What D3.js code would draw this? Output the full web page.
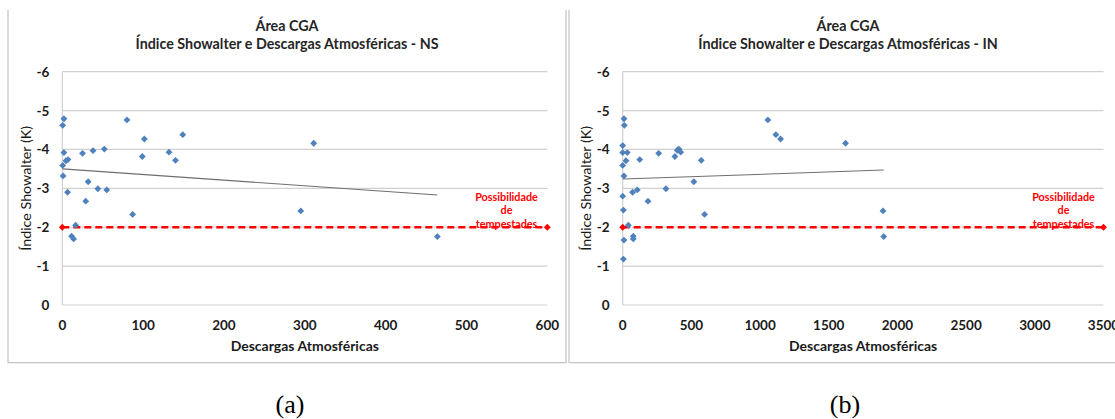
<!DOCTYPE html>
<html>
<head>
<meta charset="utf-8">
<script src="https://cdn.jsdelivr.net/npm/d3@7"></script>
<style>
  html, body { margin: 0; padding: 0; background: #fff; }
  svg { display: block; }
  text { font-family: Lato, "Open Sans", sans-serif; }
</style>
</head>
<body>
<svg id="chart" width="1115" height="419"></svg>
<script>
// ---- Data ----
const titleLine1 = "Área CGA";
const titleNS = "Índice Showalter e Descargas Atmosféricas - NS";
const titleIN = "Índice Showalter e Descargas Atmosféricas - IN";
const xAxisTitle = "Descargas Atmosféricas";
const yAxisTitle = "Índice Showalter (K)";
const annotationLines = ["Possibilidade", "de", "tempestades"];
const captions = ["(a)", "(b)"];

const yTicks = [-6, -5, -4, -3, -2, -1, 0];
const xTicksNS = [0, 100, 200, 300, 400, 500, 600];
const xTicksIN = [0, 500, 1000, 1500, 2000, 2500, 3000, 3500];

// NS panel: lightning discharges and Showalter index
const nsDescargas = [2, 0.5, 2, 0.5, 1, 4.5, 7, 6.5, 16.5, 11.5, 14, 25, 32, 29, 38, 44, 52, 55, 80, 87, 99, 101.5, 132, 140, 149, 311, 295, 464];
const nsShowalter = [-4.79, -4.62, -3.92, -3.59, -3.32, -3.71, -3.74, -2.90, -2.05, -1.77, -1.70, -3.90, -3.17, -2.67, -3.97, -2.99, -4.01, -2.96, -4.76, -2.33, -3.82, -4.27, -3.93, -3.72, -4.38, -4.16, -2.42, -1.76];
const nsTrendX = [0, 464];
const nsTrendY = [-3.50, -2.83];

// IN panel
const inDescargas = [9.5, 12, 0, 0, 33, 0, 24, 9, 0, 5, 41, 9, 77, 77, 5, 124, 72, 106, 184, 262, 315, 380, 397, 409, 422, 518, 572, 596, 1057, 1115, 1149, 1622, 1895, 1900];
const inShowalter = [-4.79, -4.62, -4.10, -3.92, -3.92, -3.59, -3.71, -3.32, -2.80, -2.44, -2.05, -1.67, -1.77, -1.70, -1.18, -3.74, -2.90, -2.96, -2.67, -3.90, -2.99, -3.82, -3.98, -4.01, -3.93, -3.17, -3.72, -2.33, -4.76, -4.38, -4.27, -4.16, -2.42, -1.76];
const inTrendX = [0, 1900];
const inTrendY = [-3.24, -3.47];

const thresholdValue = -2;

// ---- Drawing ----
const svg = d3.select("#chart");

function drawPanel(cfg) {
  const g = svg.append("g");
  const x = d3.scaleLinear().domain([cfg.xTicks[0], cfg.xTicks[cfg.xTicks.length - 1]]).range([cfg.left, cfg.right]);
  const y = d3.scaleLinear().domain([0, -6]).range([305, 71.7]);

  // chart frame (left, right, bottom edges)
  g.append("path")
    .attr("d", `M${cfg.boxL},10 V362.7 H${cfg.boxR} V10`)
    .attr("fill", "none").attr("stroke", "#c4c4c4").attr("stroke-width", 1.2);

  // gridlines
  g.selectAll(".grid").data(yTicks).enter().append("line")
    .attr("x1", cfg.left).attr("x2", cfg.right)
    .attr("y1", d => y(d)).attr("y2", d => y(d))
    .attr("stroke", "#d0d0d0").attr("stroke-width", 1.2);
  // y axis line
  g.append("line").attr("x1", cfg.left).attr("x2", cfg.left)
    .attr("y1", y(-6)).attr("y2", y(0))
    .attr("stroke", "#d0d0d0").attr("stroke-width", 1.2);

  // y tick labels
  g.selectAll(".ytl").data(yTicks).enter().append("text")
    .attr("x", cfg.left - 13).attr("y", d => y(d))
    .attr("text-anchor", "end").attr("dominant-baseline", "central")
    .attr("font-size", 13.5).attr("font-weight", "bold").attr("fill", "#1a1a1a")
    .text(d => d);
  // x tick labels
  g.selectAll(".xtl").data(cfg.xTicks).enter().append("text")
    .attr("x", d => x(d)).attr("y", 325)
    .attr("text-anchor", "middle").attr("dominant-baseline", "central")
    .attr("font-size", 13.5).attr("font-weight", "bold").attr("fill", "#1a1a1a")
    .text(d => d);

  // titles
  const cx = (cfg.boxL + cfg.boxR) / 2;
  g.append("text").attr("x", cx).attr("y", 25)
    .attr("text-anchor", "middle").attr("dominant-baseline", "central")
    .attr("font-size", 14.3).attr("font-weight", "bold").attr("fill", "#262626").text(titleLine1);
  g.append("text").attr("x", cx).attr("y", 43.5)
    .attr("text-anchor", "middle").attr("dominant-baseline", "central")
    .attr("font-size", 14.3).attr("font-weight", "bold").attr("fill", "#262626").text(cfg.title);

  // axis titles
  g.append("text").attr("x", (cfg.left + cfg.right) / 2).attr("y", 345)
    .attr("text-anchor", "middle").attr("dominant-baseline", "central")
    .attr("font-size", 14).attr("font-weight", "bold").attr("fill", "#1a1a1a").text(xAxisTitle);
  g.append("text")
    .attr("transform", `translate(${cfg.left - 37},${(y(-6) + y(0)) / 2}) rotate(-90)`)
    .attr("text-anchor", "middle").attr("dominant-baseline", "central")
    .attr("font-size", 14.3).attr("fill", "#1a1a1a").text(yAxisTitle);

  // threshold line
  const xMax = cfg.xTicks[cfg.xTicks.length - 1];
  g.append("line")
    .attr("x1", x(0)).attr("x2", x(xMax))
    .attr("y1", y(thresholdValue)).attr("y2", y(thresholdValue))
    .attr("stroke", "#ff0000").attr("stroke-width", 2.5).attr("stroke-dasharray", "7,4");
  g.selectAll(".thm").data([0, xMax]).enter().append("path")
    .attr("d", d3.symbol(d3.symbolDiamond2, 30))
    .attr("transform", d => `translate(${x(d)},${y(thresholdValue)})`)
    .attr("fill", "#ff0000");

  // annotation
  g.selectAll(".ann").data(annotationLines).enter().append("text")
    .attr("x", cfg.annX).attr("y", (d, i) => 196 + i * 13.7)
    .attr("text-anchor", "middle").attr("dominant-baseline", "central")
    .attr("font-size", 10.8).attr("font-weight", "bold").attr("fill", "#ff0000")
    .text(d => d);

  // trend line
  g.append("line")
    .attr("x1", x(cfg.trendX[0])).attr("x2", x(cfg.trendX[1]))
    .attr("y1", y(cfg.trendY[0])).attr("y2", y(cfg.trendY[1]))
    .attr("stroke", "#6e6e6e").attr("stroke-width", 1.1);

  // points
  const pts = cfg.xs.map((d, i) => [d, cfg.ys[i]]);
  g.selectAll(".pt").data(pts).enter().append("path")
    .attr("d", d3.symbol(d3.symbolDiamond2, 30))
    .attr("transform", d => `translate(${x(d[0])},${y(d[1])})`)
    .attr("fill", "#4f81bd");
}

drawPanel({
  left: 62.3, right: 547.3, boxL: 8, boxR: 566,
  xTicks: xTicksNS, title: titleNS, annX: 506.5,
  xs: nsDescargas, ys: nsShowalter, trendX: nsTrendX, trendY: nsTrendY
});
drawPanel({
  left: 622.7, right: 1103.5, boxL: 569, boxR: 1127,
  xTicks: xTicksIN, title: titleIN, annX: 1063.5,
  xs: inDescargas, ys: inShowalter, trendX: inTrendX, trendY: inTrendY
});

// captions
svg.selectAll(".cap").data(captions).enter().append("text")
  .attr("x", (d, i) => i === 0 ? 290 : 845).attr("y", 404)
  .attr("text-anchor", "middle").attr("dominant-baseline", "central")
  .style("font-family", "'Liberation Serif', 'Times New Roman', serif")
  .attr("font-size", 26).attr("fill", "#000")
  .text(d => d);
</script>
</body>
</html>
